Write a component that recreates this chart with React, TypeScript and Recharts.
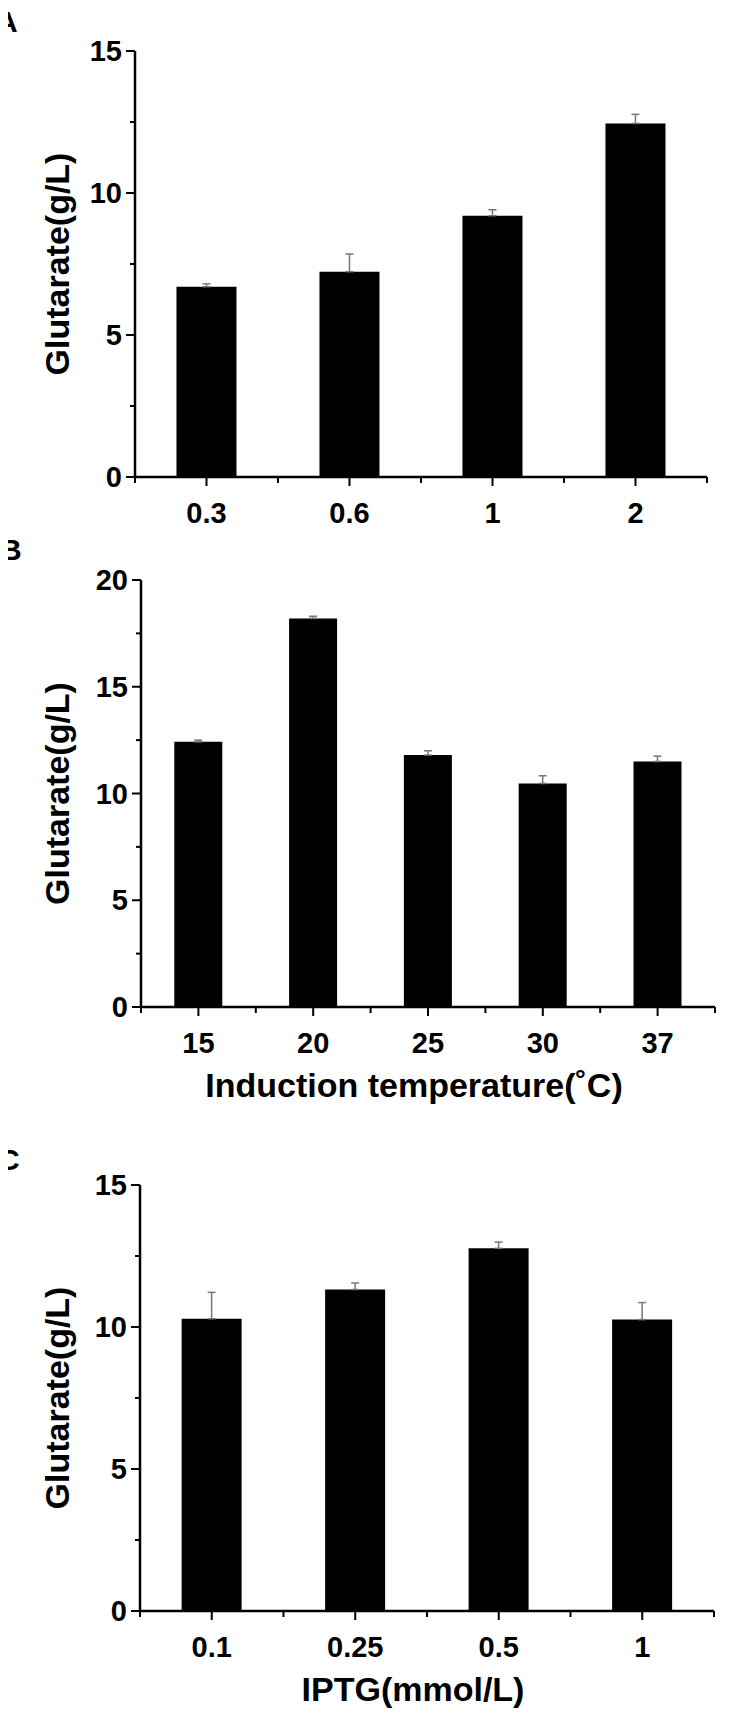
import React from 'react';
import { BarChart, Bar, XAxis, YAxis, ErrorBar } from 'recharts';

// Panel A: cell density at induction
const densityLabels = ['0.3', '0.6', '1', '2'];
const densityValues = [6.7, 7.23, 9.2, 12.45];
const densityErrors = [0.1, 0.62, 0.21, 0.32];

// Panel B: induction temperature
const tempLabels = ['15', '20', '25', '30', '37'];
const tempValues = [12.42, 18.2, 11.8, 10.47, 11.5];
const tempErrors = [0.08, 0.1, 0.2, 0.36, 0.25];

// Panel C: IPTG concentration
const iptgLabels = ['0.1', '0.25', '0.5', '1'];
const iptgValues = [10.29, 11.32, 12.77, 10.26];
const iptgErrors = [0.93, 0.23, 0.22, 0.6];

const ticks15 = [0, 2.5, 5, 7.5, 10, 12.5, 15];
const ticks20 = [0, 2.5, 5, 7.5, 10, 12.5, 15, 17.5, 20];

const FONT = '"Liberation Sans", Arial, sans-serif';

const toRows = (labels: string[], values: number[], errors: number[]) =>
  labels.map((name, i) => ({ name, value: values[i], err: [0, errors[i]] }));

const YTick = (props: any) => {
  const { x, y, payload } = props;
  const v = payload.value;
  const major = v % 5 === 0;
  return (
    <g>
      <line x1={x - (major ? 9 : 5)} x2={x} y1={y} y2={y} stroke="#000" strokeWidth={2} />
      {major && (
        <text x={x - 13} y={y} textAnchor="end" dominantBaseline="central"
          fontSize={29} fontWeight="bold" fontFamily={FONT} fill="#000">
          {v}
        </text>
      )}
    </g>
  );
};

const XTick = (props: any) => {
  const { x, y, payload, index } = props;
  const half = payload.offset ?? 0;
  return (
    <g>
      <line x1={x} x2={x} y1={y} y2={y + 9} stroke="#000" strokeWidth={2} />
      <line x1={x + half} x2={x + half} y1={y} y2={y + 6} stroke="#000" strokeWidth={2} />
      {index === 0 && <line x1={x - half} x2={x - half} y1={y} y2={y + 6} stroke="#000" strokeWidth={2} />}
      <text x={x} y={y + 36} textAnchor="middle" dominantBaseline="central"
        fontSize={29} fontWeight="bold" fontFamily={FONT} fill="#000">
        {payload.value}
      </text>
    </g>
  );
};

interface PanelProps {
  top: number;
  height: number;
  plotTop: number;
  plotBottom: number;
  left: number;
  right: number;
  rows: any[];
  yMax: number;
  yTicks: number[];
  xTitle?: string;
  xTitleDy?: number;
}

const Panel = ({ top, height, plotTop, plotBottom, left, right, rows, yMax, yTicks, xTitle, xTitleDy = 80 }: PanelProps) => (
  <div style={{ position: 'absolute', left: 0, top }}>
    <BarChart
      width={750}
      height={height}
      data={rows}
      margin={{ top: plotTop, right: 750 - right, bottom: 0, left: 0 }}
      barCategoryGap="29%"
    >
      <XAxis
        dataKey="name"
        interval={0}
        height={height - plotBottom}
        tickSize={0}
        tickMargin={0}
        tickLine={false}
        axisLine={{ stroke: '#000', strokeWidth: 2.5 }}
        tick={<XTick />}
        label={
          xTitle
            ? {
                content: (p: any) => {
                  const vb = p.viewBox;
                  return (
                    <text x={vb.x + vb.width / 2 - 14} y={vb.y + xTitleDy} textAnchor="middle"
                      dominantBaseline="central" fontSize={34} fontWeight="bold" fontFamily={FONT} fill="#000">
                      {xTitle}
                    </text>
                  );
                },
              }
            : undefined
        }
      />
      <YAxis
        type="number"
        domain={[0, yMax]}
        ticks={yTicks}
        interval={0}
        width={left}
        tickSize={0}
        tickMargin={0}
        tickLine={false}
        axisLine={{ stroke: '#000', strokeWidth: 2.5 }}
        tick={<YTick />}
        label={{
          content: (p: any) => {
            const vb = p.viewBox;
            return (
              <text transform={`translate(57, ${vb.y + vb.height / 2}) rotate(-90)`} textAnchor="middle"
                dominantBaseline="central" fontSize={34} fontWeight="bold" fontFamily={FONT} fill="#000">
                Glutarate(g/L)
              </text>
            );
          },
        }}
      />
      <Bar dataKey="value" fill="#000" isAnimationActive={false}>
        <ErrorBar dataKey="err" direction="y" width={4} stroke="#777" strokeWidth={1.5} isAnimationActive={false} />
      </Bar>
    </BarChart>
  </div>
);

const Letter = ({ text, top, shift }: { text: string; top: number; shift: number }) => (
  <div style={{ position: 'absolute', left: 8, top, width: 22, height: 36, overflow: 'hidden' }}>
    <span style={{ position: 'absolute', left: shift, top: 0, fontFamily: FONT, fontWeight: 'bold', fontSize: 30, lineHeight: '36px', color: '#000' }}>
      {text}
    </span>
  </div>
);

export default function App() {
  return (
    <div style={{ position: 'absolute', left: 0, top: 0, width: 750, height: 1713, background: '#fff', overflow: 'hidden' }}>
      <Panel top={0} height={540} plotTop={51} plotBottom={477} left={135} right={707}
        rows={toRows(densityLabels, densityValues, densityErrors)} yMax={15} yTicks={ticks15} />
      <Panel top={540} height={580} plotTop={40} plotBottom={467} left={141} right={715}
        rows={toRows(tempLabels, tempValues, tempErrors)} yMax={20} yTicks={ticks20}
        xTitle="Induction temperature(˚C)" xTitleDy={78} />
      <Panel top={1120} height={593} plotTop={65} plotBottom={491} left={140} right={714}
        rows={toRows(iptgLabels, iptgValues, iptgErrors)} yMax={15} yTicks={ticks15}
        xTitle="IPTG(mmol/L)" xTitleDy={78} />
      <Letter text="A" top={4} shift={-12} />
      <Letter text="B" top={532} shift={-8} />
      <Letter text="C" top={1142} shift={-10} />
    </div>
  );
}
